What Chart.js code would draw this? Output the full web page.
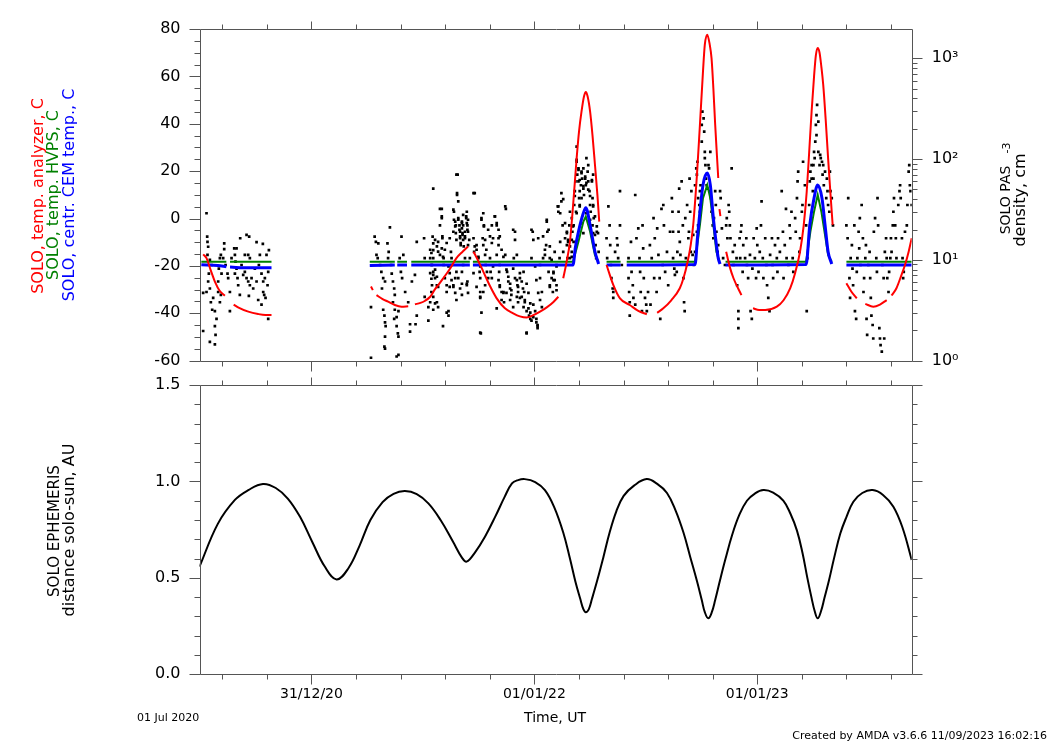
<!DOCTYPE html>
<html><head><meta charset="utf-8">
<script src="https://cdn.jsdelivr.net/npm/chart.js@4.4.0/dist/chart.umd.min.js"></script>
<style>
html,body{margin:0;padding:0;background:#fff;}
body{width:1052px;height:744px;position:relative;overflow:hidden;font-family:"DejaVu Sans",sans-serif;}
canvas{position:absolute;left:0;}
.t{position:absolute;white-space:nowrap;line-height:1;}
.rot{transform:translate(-50%,-50%) rotate(-90deg);}
.ctr{transform:translate(-50%,-50%);}
</style></head><body>
<canvas id="c1" width="1052" height="380" style="top:0"></canvas>
<canvas id="c2" width="1052" height="369" style="top:375px"></canvas>
<div class="t rot" style="left:38px;top:196px;font-size:16px;color:#ff0000">SOLO, temp. analyzer, C</div>
<div class="t rot" style="left:53px;top:195px;font-size:16px;color:#008000">SOLO, temp. HVPS, C</div>
<div class="t rot" style="left:69px;top:195px;font-size:16px;color:#0000ff">SOLO, centr. CEM temp., C</div>
<div class="t rot" style="left:1005px;top:200px;font-size:14px;color:#000">SOLO PAS</div>
<div class="t rot" style="left:1006px;top:148px;font-size:11px;color:#000">-3</div>
<div class="t rot" style="left:1020px;top:200px;font-size:16px;color:#000">density, cm</div>
<div class="t rot" style="left:54px;top:531px;font-size:15px;color:#000">SOLO EPHEMERIS</div>
<div class="t rot" style="left:69px;top:530px;font-size:16px;color:#000">distance solo-sun, AU</div>
<div class="t ctr" style="left:555px;top:717px;font-size:14px;color:#000">Time, UT</div>
<div class="t" style="left:137px;top:712px;font-size:11px;color:#000">01 Jul 2020</div>
<div class="t" style="right:5px;top:730px;font-size:11px;color:#000">Created by AMDA v3.6.6 11/09/2023 16:02:16</div>
<script>
// ---- time axis: days since 01 Jul 2020 ----
const xMin = 0, xMax = 1167;
const xMajorDays = [183.5, 548.75, 914];
const xMajorLabels = ['31/12/20', '01/01/22', '01/01/23'];
const xMinorStep = 73.05;
const logTickLabels = ['10\u2070', '10\u00b9', '10\u00b2', '10\u00b3'];

// ---- SOLO temp. analyzer, C  [day, value]  (null = data gap) ----
const anaTemp = [[6,-15.1],[11.5,-16.7],[18.6,-22],[25.2,-26.6],[33,-30.5],[41.5,-32.6],[48,null],[56,-36.3],[64,-37.6],[80,-39.3],[96,-40.3],[108,-40.7],[118,-40.7],[200,null],
[281,-28.7],[284,-30.2],[287,null],[290,-32.3],[300,-34],[309,-35.1],[320,-36.5],[331,-37.2],[342,-37],[347,null],[353,-36.2],[362,-35.6],[369,-34.8],[378,-33],[386,-29.8],[393,-27.5],[400,-25],[411,-21],[421,-16.7],[431,-14],[440,-11.8],[444,null],[449,-14],[457,-18],[465,-22.4],[476,-28.5],[487,-33.7],[500,-37.8],[514,-40],[525,-41.3],[536,-41.8],[547,-40.8],[558,-39.3],[569,-37.5],[580,-35.2],[588,-33],[592,null],[596,-25.2],[601,-19],[607,-9.7],[612,5],[618,25.5],[622,37],[626,45.2],[630,51.5],[633,53.4],[636,51.5],[640,45.2],[644,35],[648,22.7],[652,10],[655,-1.3],[661,null],[667,-19.6],[678,-28],[689,-33.7],[705,-36.5],[719,-39],[733,-40.4],[745,null],[750,-39.8],[760,-37.9],[773,-34.5],[787,-29.4],[793,-25.2],[800,-18],[805,-11],[809,-2.7],[815,18],[820,39.6],[825,62],[828,73.4],[832,77.6],[836,73.5],[839,67.7],[842,55],[845,39.6],[848,26],[850,17.1],[851,null],[852,4],[853.5,1],[857,null],[863,-14],[869,-20.5],[875,-25.2],[888,-32.3],[897,null],[907,-37.9],[917,-38.6],[927,-38.6],[946,-37.2],[957,-34.5],[968,-29.4],[976,-23],[984,-14],[990,-3],[995,11.4],[999,28],[1003,45.2],[1007,60],[1010,69],[1013,72],[1016,70],[1019,64],[1022,56.5],[1026,42],[1030,25.5],[1034,10],[1037.5,-2.7],[1048,null],[1060,-27.3],[1068,-30.8],[1077,-33.7],[1085,null],[1091,-36],[1104,-37.2],[1115,-36.3],[1126,-34.4],[1130,null],[1134,-32.5],[1142,-29.4],[1150,-24],[1156,-19.6],[1162,-14],[1167,-8.3]];

// ---- SOLO temp. HVPS, C ----
const hvpsTemp = [[3,-18.2],[44,-18.2],[47,null],[50,-18.2],[118,-18.2],[200,null],
[279,-18.2],[320,-18.2],[322,null],[324,-18.2],[340,-18.2],[344,null],[347,-18.2],[443,-18.2],[445,null],[448,-18.2],[612,-18.2],[621,-9.7],[629,-1.3],[633,0.8],[640,-5.5],[648,-15.4],[654,-18.2],[660,null],[667,-18.2],[690,-18.2],[695,null],[700,-18.2],[812,-18.2],[820,-2.7],[825,8.6],[832,14.2],[837,8.6],[842,-2.7],[847,-14],[852,-18.2],[857,null],[862,-18.2],[994,-18.2],[1001,-5.5],[1007,2.9],[1013,10],[1019,2.9],[1025,-7],[1030,-15.4],[1036,-18.2],[1048,null],[1060,-18.2],[1167,-18.2]];

// ---- SOLO centr. CEM temp., C ----
const cemTemp = [[3,-19.5],[30,-19.8],[44,-20.3],[47,null],[50,-20.5],[80,-20.8],[118,-20.8],[200,null],
[279,-19.8],[320,-19.6],[322,null],[324,-19.6],[340,-19.6],[344,null],[347,-19.6],[443,-19.6],[445,null],[448,-19.6],[612,-19.6],[616,-12],[621,-5.5],[629,2.3],[633,4.6],[640,-2.7],[648,-14],[654,-19.2],[660,null],[667,-19.6],[690,-19.6],[695,null],[700,-19.6],[812,-19.4],[816,-8],[820,2.9],[825,14.2],[832,19.2],[837,14.2],[842,0.2],[847,-11.1],[850,-16.7],[853,-19.2],[857,null],[862,-19.6],[994,-19.4],[1000,-2.7],[1007,8.6],[1013,14.2],[1020,8.6],[1025,-2.7],[1030,-14],[1036,-19.2],[1042,null],[1047,-19.6],[1048,null],[1060,-19.6],[1167,-19.6]];

// ---- SOLO PAS density, cm-3 [day, value] ----
const densA = [[6,1.97],[6,4.7],[11.5,29],[11.5,4.8],[12.6,17],[13.1,15.1],[13.1,11.2],[14.2,13.5],[14.2,6.1],[15.3,7.3],[17,10],[17,5.2],[17,1.54],[18.6,3.8],[19.7,8.9],[20.8,3.2],[22.4,4.2],[25.2,3.1],[25.2,2.2],[25.2,1.45],[26.3,1.8],[27.9,2.6],[30.6,6.1],[30.6,4.8],[31.7,8.2],[33.4,10.4],[33.4,3.8],[35,11.2],[35,4.5],[36.1,7.3],[38.8,10.4],[40.5,14.6],[40.5,12.8],[42.7,8.9],[45.9,7.3],[47,6.6],[49.8,4.8],[49.8,3.1],[52.5,10.4],[56.9,13],[58,11.2],[58,7.3],[59,9.6],[60.7,13],[60.7,8.2],[62.3,6.6],[63.4,5.6],[66.1,4.5],[66.7,16.4],[68.9,8.9],[71.6,7.1],[74.3,11.2],[74.3,7.6],[77.1,17.7],[77.1,6.6],[79.8,11.2],[79.8,6.1],[80.9,4.4],[81.4,17],[82.5,10.4],[82.5,5.6],[85.3,6.6],[88,5.2],[90.7,8.2],[93.5,15],[93.5,6.1],[96.2,4],[97.3,8.9],[98.9,11.2],[101.6,7.3],[101.6,3.6],[103.8,14.4],[104.4,6.1],[104.4,4.8],[106,4.5],[107.1,6.6],[108.2,4.2],[109.8,11.2],[111.5,5.6],[112.6,7.6],[112.6,2.6],[113.7,12.5]];
const densB = [[281,3.4],[281,1.07],[287,17],[289,15.1],[290,11.2],[292,10.4],[293,14.6],[296,8.9],[298,7.6],[299,5.2],[301,6.6],[301,3.2],[303,2.8],[303,1.38],[304,6.1],[304,2.4],[304,1.73],[304,1.32],[305,2.2],[308,14.6],[309,10.4],[310,12],[312,21],[314,8.9],[315,7.3],[317,6.1],[317,3.8],[319,5.2],[319,2.6],[320,4.5],[320,3.2],[323,2.7],[323,2.2],[323,1.1],[325,1.87],[326,3.1],[326,1.73],[326,1.14],[328,10.4],[330,7.6],[331,17],[332,6.6],[334,11.2],[337,4.8],[342,3.8],[345,2.3],[345,1.94],[348,6.1],[353,7.1],[354,2.3],[356,15.1],[356,2.8],[368,16.4],[369,10.4],[369,4.3],[375,3.4],[375,2.5],[381,8.9],[381,5.6],[382,17],[383,14.6],[383,12.5],[383,7.1]];
const densC = [[383,51],[378,10.4],[380,8.9],[383,7.6],[386,6.6],[389,5.6],[380,4.8],[378,3.8],[383,3.2],[389,3.8],[391,15.1],[394,22],[397,32],[397,26],[398,16.4],[400,10.4],[400,8.9],[402,6.6],[405,5.6],[405,4.8],[408,3.1],[408,2.8],[394,11.2],[397,13],[410,16.4],[412,12],[413,10.4],[413,8.9],[416,19],[417,30],[419,24],[420,22],[421,70],[422,44],[424,38],[424,26],[426,22],[427,19],[427,16.4],[428,14],[430,24],[430,20.5],[431,17.7],[432,28],[432,22],[435,19],[435,16.4],[437,26],[438,30],[439,22],[440,19],[440,14],[443,10.4],[435,10.4],[432,8.9],[430,7.6],[421,7.6],[419,6.6],[416,5.6],[424,6.6],[427,5.2],[430,4.5],[438,5.6],[439,6.1],
[449,16.4],[450,12],[451,46],[454,14],[457,10.4],[459,7.6],[460,6.6],[460,4.8],[460,4.2],[461,1.87],[462,26],[464,16.4],[465,14],[466,22],[468,11.2],[469,8.9],[471,7.6],[473,6.6],[468,5.6],[465,4.8],[476,10.4],[477,7.6],[479,6.6],[479,22],[481,16.4],[484,27],[487,22],[487,11.2],[490,16.4],[490,14],[492,8.9],[491,7.6],[492,5.6],[495,4.8],[487,3.3],[498,4.8],[499,3.8],[501,11.2],[502,32],[504,7.6],[506,6.1],[509,5.2],[511,4.5],[514,8.2],[515,10.4],[517,19],[517,6.6],[520,11.2],[521,5.6],[522,4.8],[522,3.8],[525,6.6],[525,4.2],[528,6.1],[530,5.2],
[531,7.6],[532,4.8],[533,3.8],[536,1.87],[536,3.1],[539,3.3],[540,2.8],[542,2.6],[544,10.4],[546,19],[547,3.6],[550,3.1],[552,2.6],[554,2.26],[554,2.1],[555,16.4],[558,8.9],[558,6.6],[561,4.8],[563,10.4],[566,11.2],[568,14],[569,24],[570,19],[572,7.6],[574,10.4],[574,5.6],[577,6.6],[579,4.8],[580,7.6],[582,12],[585,8.9],[585,5.6],[587,34],[588,30],[590,10.4],[591,15.1],[593,38],[595,22],[596,12],
[599,16.4],[602,19],[602,14],[603,10.4],[604,15.1],[606,22],[607,30],[610,26],[611,19],[613,22],[614,35],[615,48],[616,60],[618,94],[618,133],[619,70],[621,60],[622,41],[623,48],[625,55],[626,75],[627,64],[629,51],[630,44],[632,64],[633,55],[634,102],[636,75],[637,60],[639,48],[640,35],[641,30],[643,60],[644,41],[644,22],[645,35],[646,26],[648,17.7],[649,14],[650,10.4],[651,19],[654,12],[645,70],[637,87],[629,81],[621,81],[623,35],[626,41],[617,30],[613,15.1],[610,12],[607,10.4],
[667,16.4],[668,10.4],[670,34],[672,22],[673,14],[674,8.9],[675,6.6],[677,5.2],[678,4.8],[678,4.2],[681,12],[684,16.4],[685,14],[686,10.4],[689,48],[689,22],[692,8.9],[703,10.4],[703,6.6],[704,4.8],[705,3.8],[705,2.8],[707,15.1],[708,7.6],[710,5.6],[711,4.2],[714,44],[714,3.6],[716,16.4],[719,20.5],[721,10.4],[722,7.6],[723,4.8],[725,3.1],[726,22],[727,13],[728,6.6],[730,4.2],[732,3.6],[733,3.1],[735,4.8],[738,14],[739,3.6],[741,10.4],[744,26],[745,6.6],[746,16.4],[749,4.8],[750,20.5],[752,11.2],[754,6.6],[755,2.6],[757,32],[759,8.9],[760,35],[761,22],[763,7.6],[766,12],[768,5.6],[771,19]];
const densD = [[774,41],[775,30],[776,19],[776,10.4],[778,8.2],[779,7.1],[782,7.6],[783,12],[785,19],[785,30],[786,51],[787,15.1],[788,11.2],[790,60],[792,22],[793,6.6],[794,3.8],[795,3.1],[796,26],[797,10.4],[798,8.9],[799,35],[801,16.4],[802,19],[803,64],[804,30],[805,12],[806,48],[808,11.2],[809,17.7],
[812,55],[814,81],[815,70],[816,94],[817,41],[819,35],[820,48],[821,55],[823,149],[823,218],[824,295],[826,253],[827,187],[828,118],[828,102],[829,87],[830,64],[831,55],[832,51],[834,87],[835,81],[837,118],[837,48],[838,41],[839,30],[841,22],[842,16.4],[843,26],[845,48],[846,35],[847,19],[849,12],[850,14],[820,30],[817,22],[815,19],[812,12],[810,8.9],
[853,48],[854,41],[856,20.5],[858,10.4],[861,8.9],[863,22],[864,26],[865,16.4],[867,35],[868,30],[869,22],[870,16.4],[872,81],[874,12],[875,8.9],[877,14],[880,10.4],[881,5.6],[883,3.1],[883,2.6],[883,2.1],[885,16.4],[886,10.4],[887,19],[888,22],[890,7.6],[891,14],[894,10.4],[896,16.4],[897,8.9],[899,6.6],[902,11.2],[903,3.1],[905,2.6],[906,8.2],[908,16.4],[910,10.4],[912,6.6],[913,20.5],[914,14],[916,7.6],[918,12],[920,22],[921,38],[923,10.4],[924,6.6],[927,16.4],[929,8.9],[930,5.6],[932,4.2],[934,3.1],[935,11.2],[938,16.4],[939,8.9],[940,6.6],[943,14],[946,10.4],[947,7.6],[948,16.4],[951,12],[954,48],[956,19],[957,6.6],[959,14],[961,32],[962,10.4],[965,8.9],[967,22],[968,16.4],[970,30],[972,10.4],[973,7.6],[976,26],[977,19],[979,41],[980,60],[981,75],[983,12],[984,16.4],[987,30],[988,35],[989,94],[992,55],[994,22],[995,3.1],[996,10.4],
[999,35],[1000,60],[1001,75],[1003,87],[1005,48],[1006,64],[1007,118],[1008,102],[1009,149],[1010,218],[1011,273],[1012,344],[1014,118],[1016,87],[1017,110],[1018,102],[1020,94],[1021,70],[1022,87],[1023,55],[1025,75],[1027,41],[1028,64],[1029,48],[1030,35],[1032,30],[1033,75],[1034,48],[1036,41],[1038,22],[1011,173],[1014,235],[1006,87],[1003,64],
[1060,22],[1062,16.4],[1063,41],[1065,6.6],[1066,4.2],[1067,10.4],[1069,14],[1070,8.2],[1071,5.6],[1073,22],[1074,3.1],[1076,2.6],[1077,7.6],[1078,10.4],[1080,19],[1081,13],[1082,26],[1083,8.9],[1085,35],[1087,16.4],[1088,4.8],[1089,6.6],[1091,10.4],[1092,14],[1093,2.6],[1094,1.8],[1096,8.9],[1098,12],[1099,6.6],[1100,4.2],[1101,2.8],[1103,2.26],[1104,1.66],[1105,19],[1107,26],[1109,10.4],[1110,7.6],[1111,41],[1112,22],[1114,2.1],[1115,1.66],[1116,1.43],[1118,1.23],[1119,8.9],[1121,6.6],[1122,1.66],[1123,12],[1125,16.4],[1126,10.4],[1127,6.6],[1129,4.8],[1130,7.6],[1132,10.4],[1133,16.4],[1134,12],[1136,22],[1137,30],[1138,41],[1140,22],[1141,16.4],[1142,10.4],[1145,35],[1147,48],[1148,55],[1149,41],[1151,16.4],[1152,10.4],[1153,6.6],[1154,7.6],[1156,19],[1159,22],[1160,35],[1162,75],[1163,87],[1164,55],[1165,48],[1167,35]];
const densE = [[378,12.6],[380,11.7],[383,10.4],[386,15.8],[389,13.6],[391,12.1],[394,32],[397,27],[386,8],[389,6.8],[391,5.4],[378,7.4],[380,6.5],[383,4.3],[386,3.7],[391,3.4],[399,10.7],[402,12.6],[405,14.7],[398,17.1],[408,8.6],[410,7.4],[410,5.4],[413,6.3],[416,31.5],[417,25],[419,21.5],[420,18.4],[421,15.8],[424,25],[426,19.9],[427,17.1],[428,14.7],[430,23.2],[431,18.4],[432,15.8],[433,13.6],[435,17.1],[437,27],[438,23.2],[439,19.9],[440,25],[442,15.8],[422,46],[423,70],[416,5.4],[419,4.7],[421,4],[430,5.8],[438,5.8],[440,4.7],[405,3],[399,2.2],
[449,46],[451,13.6],[454,12.6],[457,10.7],[460,8.6],[462,25],[465,29],[466,21.5],[468,15.8],[470,12.6],[473,19.9],[476,17.1],[479,14.7],[481,8.6],[484,27],[487,23.2],[490,19.9],[492,17.1],[495,12.6],[498,10.7],[501,34],[503,8],[506,6.8],[509,5.8],[511,5],[514,19.9],[517,15.8],[520,6.3],[522,5.4],[525,7.4],[528,4.3],[531,3.4],[533,4],[536,5.8],[539,4.7],[542,3.7],[454,5.4],[460,4.3],[462,3],[460,1.9],[449,7.4],[490,6.3],[492,5.4],[495,4],[498,4.7],[503,4.7],[509,4],[514,3.4],[520,4.3],
[544,19.9],[547,15.8],[550,8.6],[552,6.3],[555,4.7],[558,4],[561,3.4],[542,3],[544,2.5],[547,2.7],[552,2.4],[554,2.2],[563,17.1],[566,12.6],[569,25],[572,19.9],[574,13.6],[577,10],[580,7.4],[582,6.3],[585,8.6],[588,34],[591,29],[593,46],[596,40],[599,23.2],[602,18.4],[604,15.8],[607,13.6],[610,10.7],[574,5.4],[580,6.3],[585,5],[536,1.9],
[618,98],[621,78],[623,62],[626,72.6],[629,54],[632,67],[634,58],[637,49.7],[640,43],[643,62],[645,34],[648,27],[651,21.5],[653,18.4],[623,34],[626,23],[629,18.4],[615,43],[618,29],[612,21.5],[610,15.8],[634,29],[640,25],[645,18.4]];

// ---- SOLO ephemeris: distance solo-sun, AU ----
const ephDist = [[0,0.558],[30,0.78],[58,0.904],[80,0.955],[104,0.987],
[125,0.966],[145,0.91],[165,0.815],[185,0.685],[205,0.56],[224.6,0.492],
[244,0.55],[262,0.665],[280,0.8],[300,0.893],[318,0.936],[336.6,0.95],
[356,0.934],[375,0.886],[395,0.8],[415,0.69],[430,0.605],[437.7,0.584],
[451,0.63],[468,0.715],[485,0.82],[500,0.92],[512,0.99],[522,1.007],[533,1.012],
[550,0.997],[566,0.955],[581,0.868],[596,0.735],[607,0.6],[616,0.48],[624,0.39],[629,0.338],[633,0.322],
[638,0.338],[643,0.39],[652,0.49],[662,0.61],[672,0.735],[683,0.845],[695,0.925],[712,0.978],[732.7,1.012],
[750,0.987],[766,0.94],[780,0.85],[793,0.735],[804,0.61],[815,0.485],[823,0.385],[828,0.322],[833.7,0.29],
[839.5,0.322],[845,0.385],[853,0.489],[862,0.6],[873,0.725],[885,0.83],[897,0.9],[910,0.937],[923.9,0.955],
[940,0.942],[956.6,0.9],[968,0.835],[979,0.745],[988,0.63],[996,0.5],[1003,0.395],[1008,0.328],[1013,0.29],
[1018.5,0.328],[1024,0.395],[1031.6,0.489],[1040,0.605],[1050,0.73],[1060,0.815],[1071.4,0.895],[1086,0.94],[1103,0.955],
[1120,0.93],[1137,0.869],[1152,0.76],[1167,0.593]];

// ---------------------------------------------------------------
const AXC = '#555555';
const FONT = 'DejaVu Sans';
const toXY = arr => arr.map(p => ({x: p[0], y: p[1]}));
const densAll = [].concat(densA, densB, densC, densD, densE);

function xTickList() {
  const out = [];
  for (let k = -5; k <= 20; k++) {
    const v = xMajorDays[0] + k * xMinorStep;
    if (v >= xMin && v <= xMax) out.push({v: v, major: k % 5 === 0});
  }
  return out;
}
const crisp = v => Math.round(v) + 0.5;
function noPad(s) { s.paddingTop = 0; s.paddingBottom = 0; s.paddingLeft = 0; s.paddingRight = 0; }

function framePlugin(cfg) {
  return {
    id: 'frame_' + cfg.name,
    afterDatasetsDraw(chart) {
      const ctx = chart.ctx, a = chart.chartArea, sc = chart.scales;
      ctx.save();
      ctx.strokeStyle = AXC; ctx.lineWidth = 1;
      const L = crisp(a.left), R = crisp(a.right), T = crisp(a.top), B = crisp(a.bottom);
      ctx.beginPath();
      ctx.rect(L, T, R - L, B - T);
      for (const t of xTickList()) {
        const px = crisp(sc.x.getPixelForValue(t.v));
        ctx.moveTo(px, T); ctx.lineTo(px, T - (t.major ? 8 : 5));
        ctx.moveTo(px, B); ctx.lineTo(px, B + (t.major ? 10 : 5));
      }
      for (let v = cfg.yMin; v <= cfg.yMax + 1e-9; v += cfg.yMinor) {
        const major = Math.abs(v / cfg.yMajor - Math.round(v / cfg.yMajor)) < 1e-6;
        const py = crisp(sc.y.getPixelForValue(v));
        ctx.moveTo(L, py); ctx.lineTo(L - (major ? 11 : 6), py);
        if (cfg.mirrorRight) { ctx.moveTo(R, py); ctx.lineTo(R + (major ? 10 : 5), py); }
      }
      if (cfg.logRight) {
        const s = sc.y2;
        for (let d = 1; d <= 1000; d *= 10) {
          for (let m = 1; m <= 9; m++) {
            const v = m * d;
            if (v > s.max) break;
            const py = crisp(s.getPixelForValue(v));
            ctx.moveTo(R, py); ctx.lineTo(R + (m === 1 ? 10 : 5), py);
          }
        }
      }
      ctx.stroke();
      ctx.restore();
    }
  };
}

const tickFont = {family: FONT, size: 16};
const noGrid = {display: false, drawTicks: false};

new Chart(document.getElementById('c1'), {
  type: 'line',
  data: {datasets: [
    {type: 'scatter', label: 'SOLO PAS density', data: toXY(densAll), yAxisID: 'y2', pointStyle: 'rect', pointRadius: 1.9, pointBackgroundColor: '#000', pointBorderWidth: 0, showLine: false, order: 4},
    {label: 'SOLO, temp. HVPS, C', data: toXY(hvpsTemp), yAxisID: 'y', borderColor: '#008000', borderWidth: 2, pointRadius: 0, spanGaps: false, tension: 0, order: 3},
    {label: 'SOLO, centr. CEM temp., C', data: toXY(cemTemp), yAxisID: 'y', borderColor: '#0000ff', borderWidth: 3, pointRadius: 0, spanGaps: false, cubicInterpolationMode: 'monotone', order: 2},
    {label: 'SOLO, temp. analyzer, C', data: toXY(anaTemp), yAxisID: 'y', borderColor: '#ff0000', borderWidth: 2, pointRadius: 0, spanGaps: false, cubicInterpolationMode: 'monotone', order: 1}
  ]},
  options: {
    responsive: false, animation: false, devicePixelRatio: 1,
    layout: {padding: {top: 29, bottom: 19.3, left: 0, right: 0}},
    plugins: {legend: {display: false}, tooltip: {enabled: false}},
    scales: {
      x: {type: 'linear', min: xMin, max: xMax, display: false},
      y: {type: 'linear', position: 'left', min: -60, max: 80,
          afterFit(s) { s.width = 199.5; noPad(s); },
          grid: noGrid, border: {display: false},
          ticks: {stepSize: 20, color: '#000', font: tickFont, padding: 19}},
      y2: {type: 'logarithmic', position: 'right', min: 1, max: 1950,
           afterFit(s) { s.width = 140.3; noPad(s); },
           afterBuildTicks(s) { s.ticks = [1, 10, 100, 1000].map(v => ({value: v})); },
           grid: noGrid, border: {display: false},
           ticks: {color: '#000', font: tickFont, padding: 20, autoSkip: false,
                   callback: v => logTickLabels[Math.round(Math.log10(v))]}}
    }
  },
  plugins: [framePlugin({name: 'top', yMin: -60, yMax: 80, yMinor: 5, yMajor: 20, logRight: true})]
});

new Chart(document.getElementById('c2'), {
  type: 'line',
  data: {datasets: [
    {label: 'distance solo-sun, AU', data: toXY(ephDist), borderColor: '#000', borderWidth: 2, pointRadius: 0, tension: 0.4}
  ]},
  options: {
    responsive: false, animation: false, devicePixelRatio: 1,
    layout: {padding: {top: 10, bottom: 0, left: 0, right: 140.3}},
    plugins: {legend: {display: false}, tooltip: {enabled: false}},
    scales: {
      x: {type: 'linear', min: xMin, max: xMax, position: 'bottom',
          afterFit(s) { s.height = 69.7; noPad(s); },
          afterBuildTicks(s) { s.ticks = xMajorDays.map(v => ({value: v})); },
          grid: noGrid, border: {display: false},
          ticks: {autoSkip: false, maxRotation: 0, padding: 12, color: '#000', font: {family: FONT, size: 14},
                  callback: (v, i) => xMajorLabels[i]}},
      y: {type: 'linear', position: 'left', min: 0, max: 1.5,
          afterFit(s) { s.width = 199.5; noPad(s); },
          grid: noGrid, border: {display: false},
          ticks: {stepSize: 0.5, color: '#000', font: tickFont, padding: 19, callback: v => v.toFixed(1)}}
    }
  },
  plugins: [framePlugin({name: 'bot', yMin: 0, yMax: 1.5, yMinor: 0.1, yMajor: 0.5, mirrorRight: true})]
});
</script>
</body></html>
